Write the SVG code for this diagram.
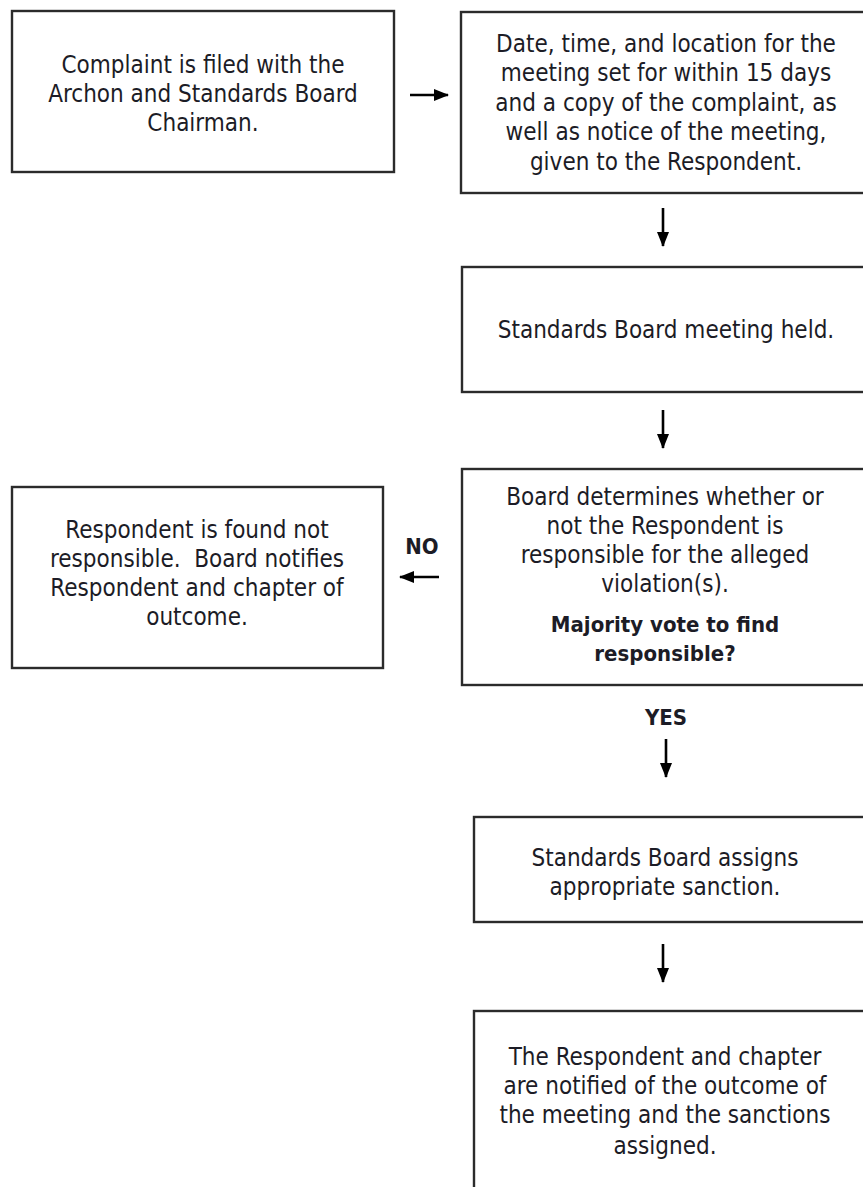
<svg xmlns="http://www.w3.org/2000/svg" width="863" height="1187" viewBox="0 0 863 1187">
<defs>
<style>
.box{fill:#fff;stroke:#2b2b2b;stroke-width:2.4}
text{font-family:"DejaVu Sans Condensed","DejaVu Sans",sans-serif;font-size:24px;fill:#1c1c26;text-anchor:middle}
.b{font-weight:bold;font-size:22px}
.arr{stroke:#000;stroke-width:2.6;fill:none}
</style>
<marker id="ah" markerWidth="15" markerHeight="12" refX="14" refY="6" orient="auto" markerUnits="userSpaceOnUse" viewBox="0 0 15 12">
<path d="M0,0 L15,6 L0,12 Z" fill="#000"/>
</marker>
</defs>
<rect width="863" height="1187" fill="#fff"/>
<g id="n1">
<rect class="box" x="12" y="11" width="382" height="161"/>
<text x="203" y="73">Complaint is filed with the</text>
<text x="203" y="102">Archon and Standards Board</text>
<text x="203" y="131">Chairman.</text>
</g>
<g id="n2">
<rect class="box" x="461" y="12" width="410" height="181"/>
<text x="666" y="52">Date, time, and location for the</text>
<text x="666" y="81">meeting set for within 15 days</text>
<text x="666" y="111">and a copy of the complaint, as</text>
<text x="666" y="140">well as notice of the meeting,</text>
<text x="666" y="170">given to the Respondent.</text>
</g>
<g id="n3">
<rect class="box" x="462" y="267" width="410" height="125"/>
<text x="666" y="338">Standards Board meeting held.</text>
</g>
<g id="n4">
<rect class="box" x="462" y="469" width="410" height="216"/>
<text x="665" y="505">Board determines whether or</text>
<text x="665" y="534">not the Respondent is</text>
<text x="665" y="563">responsible for the alleged</text>
<text x="665" y="592">violation(s).</text>
<text class="b" x="665" y="632">Majority vote to find</text>
<text class="b" x="665" y="661">responsible?</text>
</g>
<g id="n5">
<rect class="box" x="12" y="487" width="371" height="181"/>
<text x="197" y="538">Respondent is found not</text>
<text x="197" y="567" xml:space="preserve">responsible.  Board notifies</text>
<text x="197" y="596">Respondent and chapter of</text>
<text x="197" y="625">outcome.</text>
</g>
<g id="n6">
<rect class="box" x="474" y="817" width="400" height="105"/>
<text x="665" y="866">Standards Board assigns</text>
<text x="665" y="895">appropriate sanction.</text>
</g>
<g id="n7">
<rect class="box" x="474" y="1011" width="400" height="200"/>
<text x="665" y="1065">The Respondent and chapter</text>
<text x="665" y="1094">are notified of the outcome of</text>
<text x="665" y="1123">the meeting and the sanctions</text>
<text x="665" y="1154">assigned.</text>
</g>
<g id="connectors">
<line class="arr" x1="410" y1="95" x2="448" y2="95" marker-end="url(#ah)"/>
<line class="arr" x1="663" y1="208" x2="663" y2="246" marker-end="url(#ah)"/>
<line class="arr" x1="663" y1="410" x2="663" y2="448" marker-end="url(#ah)"/>
<text class="b" x="422" y="554">NO</text>
<line class="arr" x1="439" y1="577" x2="400" y2="577" marker-end="url(#ah)"/>
<text class="b" x="666" y="725">YES</text>
<line class="arr" x1="666" y1="739" x2="666" y2="777" marker-end="url(#ah)"/>
<line class="arr" x1="663" y1="944" x2="663" y2="982" marker-end="url(#ah)"/>
</g>
</svg>
